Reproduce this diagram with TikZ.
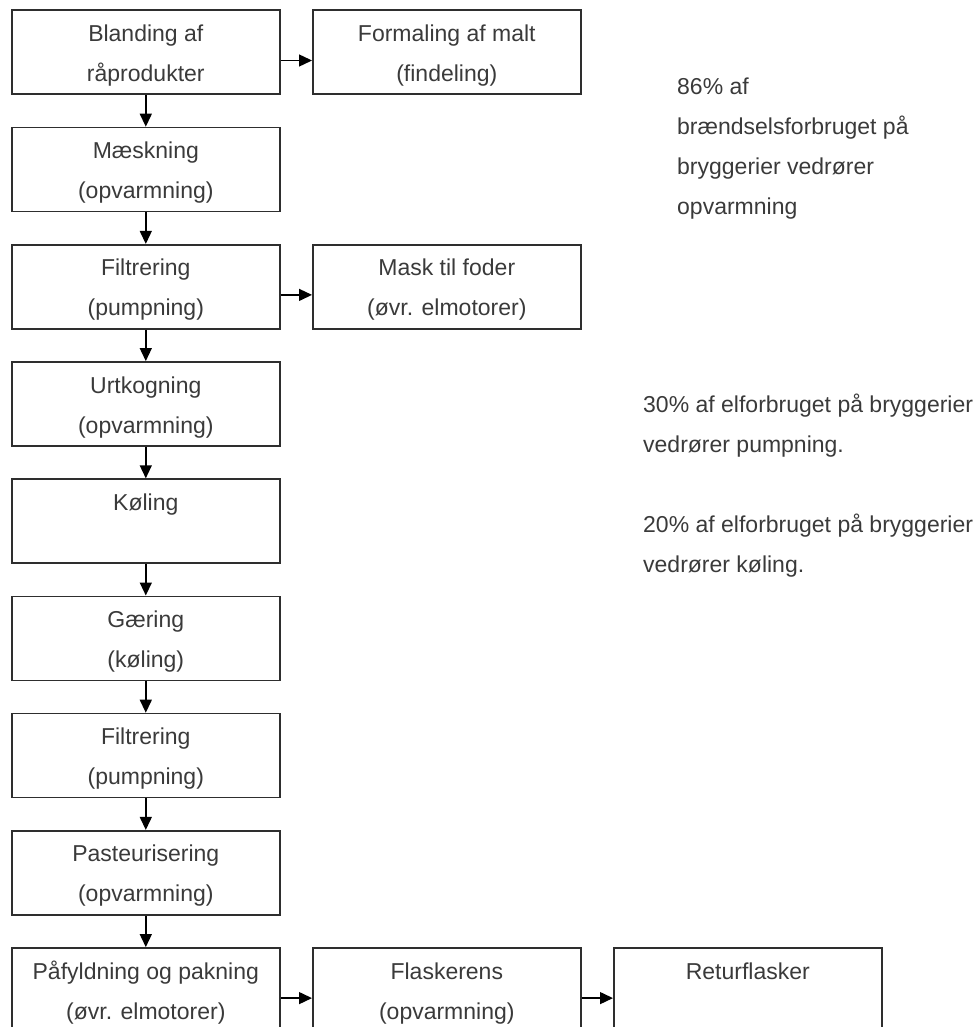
\documentclass[tikz,border=0pt]{standalone}
\usepackage{fontspec}
\setmainfont{Liberation Sans}
\usetikzlibrary{arrows.meta,calc}

\definecolor{framegray}{HTML}{2E2E2E}
\definecolor{inkgray}{HTML}{3A3A3A}

\tikzset{
  stepbox/.style={draw=framegray, line width=1.6pt, minimum width=268pt,
    minimum height=84pt, inner sep=0pt, anchor=north west},
  boxtext/.style={anchor=base, inner sep=0pt, text=inkgray,
    font=\fontsize{23}{28}\selectfont},
  sidetext/.style={anchor=base west, inner sep=0pt, text=inkgray,
    font=\fontsize{23}{28}\selectfont},
  flow/.style={draw=black, line width=1.4pt,
    -{Triangle[length=13pt,width=12pt]}},
}

\begin{document}
\begin{tikzpicture}[x=1pt,y=-1pt]
\useasboundingbox (0,0) rectangle (979,1027);

% main column of process steps
\node[stepbox] (b1) at (11,9.5) {};
\node[stepbox] (b2) at (11,126.7) {};
\node[stepbox] (b3) at (11,243.9) {};
\node[stepbox] (b4) at (11,361.1) {};
\node[stepbox] (b5) at (11,478.3) {};
\node[stepbox] (b6) at (11,595.5) {};
\node[stepbox] (b7) at (11,712.7) {};
\node[stepbox] (b8) at (11,829.9) {};
\node[stepbox] (b9) at (11,947.1) {};

% side branches
\node[stepbox] (f1) at (312,9.5) {};
\node[stepbox] (m1) at (312,243.9) {};
\node[stepbox] (c1) at (312,947.1) {};
\node[stepbox] (r1) at (613,947.1) {};

% box labels: first line at top+32, second at top+72
\node[boxtext] (b1a) at ($(b1.north)+(0,32)$) {Blanding af};
\node[boxtext] (b1b) at ($(b1.north)+(0,72)$) {råprodukter};
\node[boxtext] (b2a) at ($(b2.north)+(0,32)$) {Mæskning};
\node[boxtext] (b2b) at ($(b2.north)+(0,72)$) {(opvarmning)};
\node[boxtext] (b3a) at ($(b3.north)+(0,32)$) {Filtrering};
\node[boxtext] (b3b) at ($(b3.north)+(0,72)$) {(pumpning)};
\node[boxtext] (b4a) at ($(b4.north)+(0,32)$) {Urtkogning};
\node[boxtext] (b4b) at ($(b4.north)+(0,72)$) {(opvarmning)};
\node[boxtext] (b5a) at ($(b5.north)+(0,32)$) {Køling};
\node[boxtext] (b6a) at ($(b6.north)+(0,32)$) {Gæring};
\node[boxtext] (b6b) at ($(b6.north)+(0,72)$) {(køling)};
\node[boxtext] (b7a) at ($(b7.north)+(0,32)$) {Filtrering};
\node[boxtext] (b7b) at ($(b7.north)+(0,72)$) {(pumpning)};
\node[boxtext] (b8a) at ($(b8.north)+(0,32)$) {Pasteurisering};
\node[boxtext] (b8b) at ($(b8.north)+(0,72)$) {(opvarmning)};
\node[boxtext] (b9a) at ($(b9.north)+(0,32)$) {Påfyldning og pakning};
\node[boxtext] (b9b) at ($(b9.north)+(0,72)$) {(øvr. elmotorer)};
\node[boxtext] (f1a) at ($(f1.north)+(0,32)$) {Formaling af malt};
\node[boxtext] (f1b) at ($(f1.north)+(0,72)$) {(findeling)};
\node[boxtext] (m1a) at ($(m1.north)+(0,32)$) {Mask til foder};
\node[boxtext] (m1b) at ($(m1.north)+(0,72)$) {(øvr. elmotorer)};
\node[boxtext] (c1a) at ($(c1.north)+(0,32)$) {Flaskerens};
\node[boxtext] (c1b) at ($(c1.north)+(0,72)$) {(opvarmning)};
\node[boxtext] (r1a) at ($(r1.north)+(0,32)$) {Returflasker};

% vertical flow
\draw[flow] (b1.south) -- (b2.north);
\draw[flow] (b2.south) -- (b3.north);
\draw[flow] (b3.south) -- (b4.north);
\draw[flow] (b4.south) -- (b5.north);
\draw[flow] (b5.south) -- (b6.north);
\draw[flow] (b6.south) -- (b7.north);
\draw[flow] (b7.south) -- (b8.north);
\draw[flow] (b8.south) -- (b9.north);

% horizontal branches, a little below the box middle
\draw[flow] ([yshift=-51pt]b1.north east) -- ([yshift=-51pt]f1.north west);
\draw[flow] ([yshift=-51pt]b3.north east) -- ([yshift=-51pt]m1.north west);
\draw[flow] ([yshift=-51pt]b9.north east) -- ([yshift=-51pt]c1.north west);
\draw[flow] ([yshift=-51pt]c1.north east) -- ([yshift=-51pt]r1.north west);

% notes on energy use
\node[sidetext] (n1) at (677,95) {86\% af};
\node[sidetext] (n2) at (677,135) {brændselsforbruget på};
\node[sidetext] (n3) at (677,175) {bryggerier vedrører};
\node[sidetext] (n4) at (677,214) {opvarmning};
\node[sidetext] (p1) at (643,412) {30\% af elforbruget på bryggerier};
\node[sidetext] (p2) at (643,452) {vedrører pumpning.};
\node[sidetext] (k1) at (643,532) {20\% af elforbruget på bryggerier};
\node[sidetext] (k2) at (643,572) {vedrører køling.};
\end{tikzpicture}
\end{document}
